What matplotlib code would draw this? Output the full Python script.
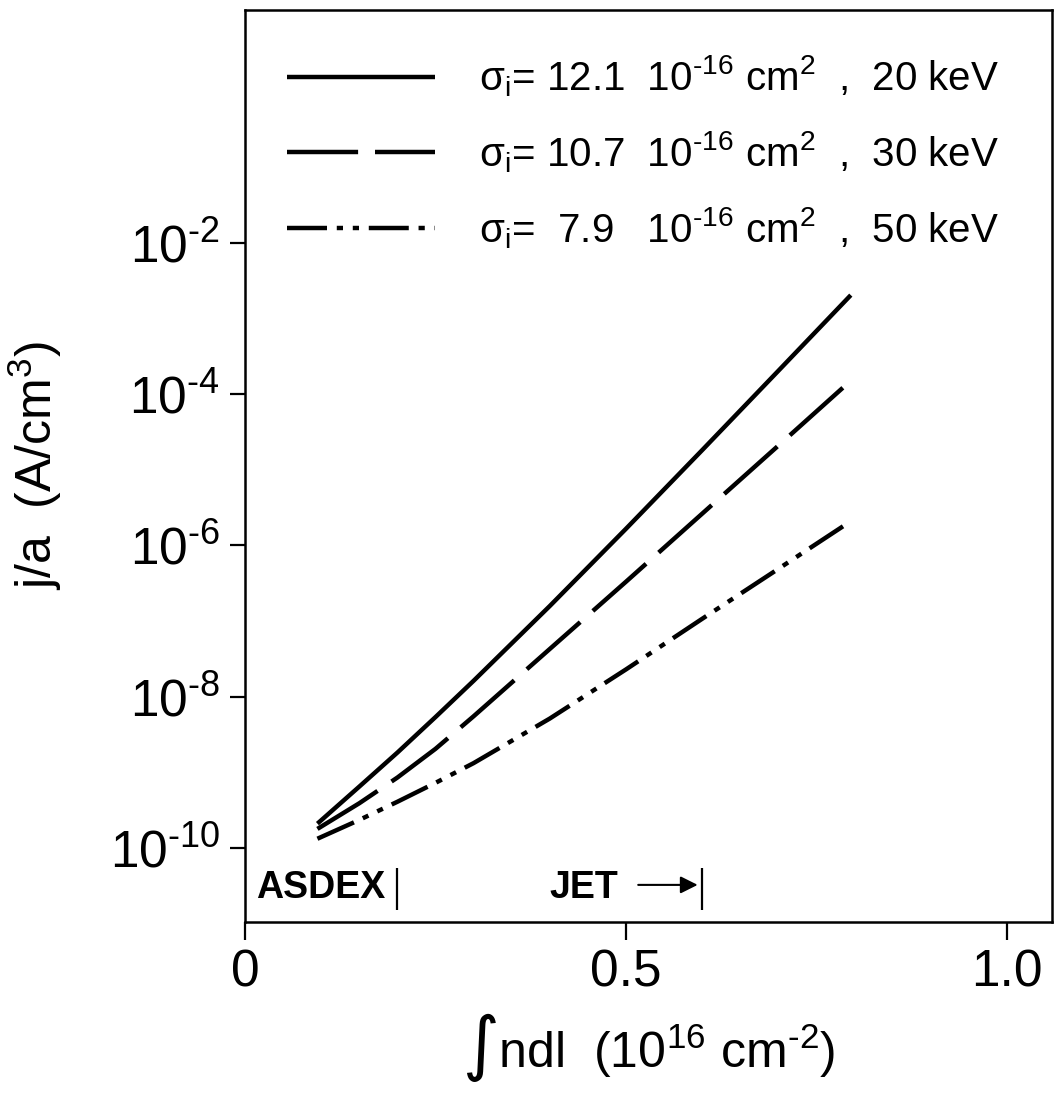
import numpy as np
import matplotlib
matplotlib.use("Agg")
import matplotlib.pyplot as plt
from matplotlib.ticker import FixedLocator, FuncFormatter

plt.rcParams["font.family"] = ["Liberation Sans", "DejaVu Sans"]
plt.rcParams["mathtext.default"] = "regular"

HY = "\u2010"  # short hyphen, like the printed exponents

# line integral density (10^16 cm^-2)
ndl = [0.095, 0.15, 0.2, 0.25, 0.3, 0.4, 0.5, 0.6, 0.7, 0.795]
# j/a (A/cm^3) for the three beam energies
ja_20kev = [2.09e-10, 6.46e-10, 1.82e-9, 5.37e-9, 1.62e-8, 1.58e-7, 1.66e-6, 1.82e-5, 2.04e-4, 2.04e-3]
ja_30kev = [1.78e-10, 3.89e-10, 8.51e-10, 2.04e-9, 5.50e-9, 4.27e-8, 3.31e-7, 2.63e-6, 2.09e-5, 1.51e-4]
ja_50kev = [1.32e-10, 2.34e-10, 4.07e-10, 7.24e-10, 1.32e-9, 5.13e-9, 2.29e-8, 1.07e-7, 4.90e-7, 2.09e-6]

labels = [
    r"$\sigma_i$= 12.1  10$^{" + HY + r"16}$ cm$^2$  ,  20 keV",
    r"$\sigma_i$= 10.7  10$^{" + HY + r"16}$ cm$^2$  ,  30 keV",
    r"$\sigma_i$=  7.9   10$^{" + HY + r"16}$ cm$^2$  ,  50 keV",
]
xticks = [0, 0.5, 1.0]
xticklabels = ["0", "0.5", "1.0"]
yticks = [1e-10, 1e-8, 1e-6, 1e-4, 1e-2]
asdex_x = 0.2
jet_x = 0.6


def log_label(v, pos):
    e = int(round(np.log10(v)))
    return "10$^{" + (HY if e < 0 else "") + str(abs(e)) + "}$"


fig = plt.figure(figsize=(10.58, 10.93), dpi=100)
ax = fig.add_axes([0.2316, 0.1565, 0.9943 - 0.2316, 0.9909 - 0.1565])

lw = 3.2
ax.plot(ndl, ja_20kev, color="black", lw=lw, solid_capstyle="butt", label=labels[0])
ax.plot(ndl, ja_30kev, color="black", lw=lw, linestyle=(0, (16, 3.8)),
        dash_capstyle="butt", label=labels[1])
ax.plot(ndl, ja_50kev, color="black", lw=lw,
        linestyle=(0, (9, 2.2, 1.4, 2.2, 1.4, 2.2)),
        dash_capstyle="butt", label=labels[2])

ax.set_yscale("log")
ax.set_xlim(0, 1.059)
ax.set_ylim(10 ** -10.98, 10 ** 1.081)
ax.yaxis.set_major_locator(FixedLocator(yticks))
ax.yaxis.set_major_formatter(FuncFormatter(log_label))
ax.yaxis.set_minor_locator(FixedLocator([]))
ax.set_xticks(xticks, xticklabels)

for s in ax.spines.values():
    s.set_linewidth(1.8)
ax.tick_params(axis="both", direction="out", width=1.6, labelsize=37)
ax.tick_params(axis="y", length=11, pad=7)
ax.tick_params(axis="x", length=13, pad=6)

ax.set_ylabel(r"j/a  (A/cm$^3$)", fontsize=36, labelpad=33)
ax.set_xlabel("\u222bndl  (10$^{16}$ cm$^{" + HY + "2}$)", fontsize=36, labelpad=10)

# machine markers
ax.vlines([asdex_x, jet_x], 10 ** -10.82, 10 ** -10.26, color="black", lw=1.6)
ax.text(0.014, 10 ** -10.66, "ASDEX", fontsize=27, fontweight="bold",
        ha="left", va="baseline")
ax.text(0.399, 10 ** -10.66, "JET", fontsize=27, fontweight="bold",
        ha="left", va="baseline")
ax.annotate("", xy=(0.594, 10 ** -10.49), xytext=(0.516, 10 ** -10.49),
            arrowprops=dict(arrowstyle="-|>", color="black", lw=1.5,
                            mutation_scale=26, shrinkA=0, shrinkB=0))

ax.legend(loc="upper left", bbox_to_anchor=(0.052, 0.952), frameon=False,
          fontsize=29, handlelength=3.67, handletextpad=1.1,
          labelspacing=0.75, borderaxespad=0, borderpad=0)

fig.savefig("out.png", dpi=100)
